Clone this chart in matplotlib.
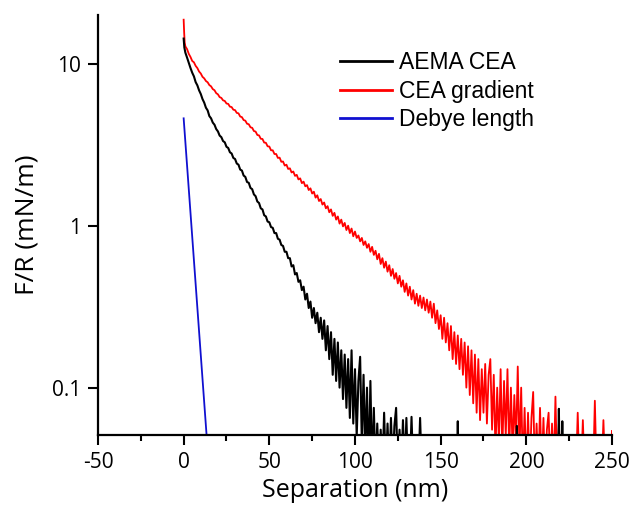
import matplotlib
matplotlib.use("Agg")
import matplotlib.pyplot as plt
from matplotlib.ticker import FixedLocator, NullLocator, FixedFormatter

plt.rcParams["axes.unicode_minus"] = False

# ---------------- data ----------------
aema_x = [0, 0.4] + list(range(1, 140)) + [140, 159.5, 160, 160.5, 194, 194.5, 195,
                                          218.5, 219, 219.5, 220.5, 221, 221.5, 223]
aema_y = [14.3, 12.6,
          11.7, 10.9, 10.1, 9.4, 8.8, 8.35, 7.7, 7.35, 6.85, 6.5,
          6.05, 5.75, 5.35, 5.15, 4.75, 4.6, 4.33, 4.2, 3.95, 3.82,
          3.6, 3.52, 3.33, 3.27, 3.07, 3.02, 2.84, 2.79, 2.62, 2.58,
          2.42, 2.38, 2.22, 2.19, 2.04, 2.0, 1.86, 1.84, 1.71, 1.68,
          1.56, 1.52, 1.41, 1.38, 1.28, 1.26, 1.16, 1.14, 1.06, 1.05,
          0.98, 0.97, 0.90, 0.90, 0.83, 0.82, 0.76, 0.75, 0.69, 0.69,
          0.63, 0.63, 0.56, 0.57, 0.5, 0.51, 0.45, 0.46, 0.4,
          0.42, 0.35, 0.38, 0.31, 0.34, 0.27, 0.31, 0.25, 0.29, 0.22,
          0.27, 0.2, 0.26, 0.17, 0.24, 0.15, 0.22, 0.12, 0.2, 0.11,
          0.19, 0.1, 0.17, 0.085, 0.16, 0.075, 0.15, 0.065, 0.17, 0.06,
          0.13, 0.05, 0.11, 0.155, 0.045, 0.12, 0.04, 0.10, 0.03, 0.11,
          0.03, 0.075, 0.03, 0.06, 0.03, 0.055, 0.03, 0.07, 0.03, 0.06,
          0.03, 0.065, 0.03, 0.058, 0.075, 0.03, 0.055, 0.03, 0.063, 0.03,
          0.065, 0.03, 0.03, 0.066, 0.03, 0.03, 0.03, 0.03, 0.065, 0.03,
          0.03, 0.03, 0.062, 0.03, 0.03, 0.058, 0.03,
          0.03, 0.074, 0.03, 0.03, 0.062, 0.03, 0.03]

cea_x = [0, 0.3, 0.6] + list(range(1, 251))
cea_y = [18.7, 15.5, 13.5,
         12.8, 12.3, 11.5, 11.0, 10.4, 10.2, 9.7, 9.4, 8.95, 8.7,
         8.3, 8.12, 7.82, 7.68, 7.38, 7.25, 6.97, 6.86, 6.58, 6.47,
         6.22, 6.15, 5.94, 5.89, 5.68, 5.65, 5.43, 5.40, 5.20, 5.17,
         4.97, 4.94, 4.72, 4.68, 4.49, 4.45, 4.26, 4.23, 4.05, 4.02,
         3.84, 3.81, 3.63, 3.61, 3.44, 3.43, 3.26, 3.25, 3.09, 3.08,
         2.92, 2.92, 2.77, 2.77, 2.62, 2.63, 2.48, 2.49, 2.35, 2.38,
         2.24, 2.26, 2.13, 2.16, 2.03, 2.06, 1.93, 1.96, 1.83, 1.87,
         1.75, 1.78, 1.66, 1.70, 1.58, 1.62, 1.49, 1.54, 1.42, 1.46,
         1.35, 1.39, 1.28, 1.32, 1.21, 1.26, 1.15, 1.20, 1.09, 1.14,
         1.03, 1.09, 0.99, 1.04, 0.94, 1.00, 0.90, 0.96, 0.86, 0.92,
         0.84, 0.87, 0.80, 0.84, 0.76, 0.80, 0.73, 0.77, 0.69, 0.74,
         0.66, 0.70, 0.62, 0.67, 0.58, 0.63, 0.55, 0.60, 0.52, 0.57,
         0.49, 0.54, 0.47, 0.51, 0.44, 0.49, 0.42, 0.46, 0.39, 0.44,
         0.37, 0.42, 0.35, 0.40, 0.33, 0.38, 0.32, 0.37, 0.31, 0.36,
         0.30, 0.35, 0.29, 0.34, 0.27, 0.33, 0.25, 0.30, 0.23, 0.28,
         0.20, 0.27, 0.19, 0.25, 0.17, 0.24, 0.15, 0.22, 0.14, 0.21,
         0.13, 0.20, 0.12, 0.19, 0.10, 0.18, 0.09, 0.17, 0.08, 0.16,
         0.07, 0.15, 0.063, 0.13, 0.07, 0.14, 0.06, 0.12, 0.15, 0.055,
         0.12, 0.04, 0.10, 0.045, 0.13, 0.04, 0.11, 0.05, 0.13, 0.04,
         0.10, 0.04, 0.09, 0.045, 0.135, 0.04, 0.10, 0.03, 0.075, 0.03,
         0.07, 0.03, 0.065, 0.094, 0.03, 0.06, 0.03, 0.075, 0.03, 0.065,
         0.03, 0.055, 0.07, 0.03, 0.06, 0.03, 0.088, 0.03, 0.06, 0.03,
         0.03, 0.03, 0.03, 0.03, 0.03, 0.03, 0.03, 0.03, 0.03, 0.07,
         0.03, 0.03, 0.063, 0.03, 0.03, 0.03, 0.03, 0.03, 0.03, 0.083,
         0.03, 0.03, 0.03, 0.03, 0.063, 0.03, 0.03, 0.03, 0.03, 0.054]

debye_x = [0, 14]
debye_y = [4.6, 0.0413]

labels = ["AEMA CEA", "CEA gradient", "Debye length"]
x_ticks = [-50, 0, 50, 100, 150, 200, 250]
x_minor = [-25, 25, 75, 125, 175, 225]
y_ticks = [0.1, 1, 10]
y_ticklabels = ["0.1", "1", "10"]

# ---------------- plot ----------------
fig = plt.figure(figsize=(6.33, 5.16), dpi=100)
ax = fig.add_axes([0.1548, 0.157, 0.812, 0.814])

l_red, = ax.plot(cea_x, cea_y, color="#ff0000", lw=1.3)
l_blk, = ax.plot(aema_x, aema_y, color="black", lw=1.5)
l_blu, = ax.plot(debye_x, debye_y, color="#1010d0", lw=1.3)

ax.set_yscale("log")
ax.set_xlim(-50, 250)
ax.set_ylim(0.051, 20)

ax.xaxis.set_major_locator(FixedLocator(x_ticks))
ax.xaxis.set_minor_locator(FixedLocator(x_minor))
ax.yaxis.set_major_locator(FixedLocator(y_ticks))
ax.yaxis.set_major_formatter(FixedFormatter(y_ticklabels))
ax.yaxis.set_minor_locator(NullLocator())

for s in ["top", "right"]:
    ax.spines[s].set_visible(False)
for s in ["left", "bottom"]:
    ax.spines[s].set_linewidth(1.6)

ax.tick_params(axis="both", which="major", direction="out", length=7, width=1.5,
               labelsize=15, pad=5)
ax.tick_params(axis="x", which="minor", direction="out", length=4, width=1.5)
for lab in ax.get_xticklabels() + ax.get_yticklabels():
    lab.set_family("Open Sans")

ax.set_xlabel("Separation (nm)", fontsize=18, family="Open Sans", labelpad=4)
ax.set_ylabel("F/R (mN/m)", fontsize=19, family="Open Sans", labelpad=9)

leg = ax.legend([l_blk, l_red, l_blu], labels, loc="upper left",
                bbox_to_anchor=(0.453, 0.936), frameon=False,
                prop={"family": "Liberation Sans", "size": 16.5},
                handlelength=2.27, handletextpad=0.3, labelspacing=0.25,
                borderaxespad=0)
for h in leg.get_lines():
    h.set_linewidth(2.0)

fig.savefig("out.png", dpi=100)
